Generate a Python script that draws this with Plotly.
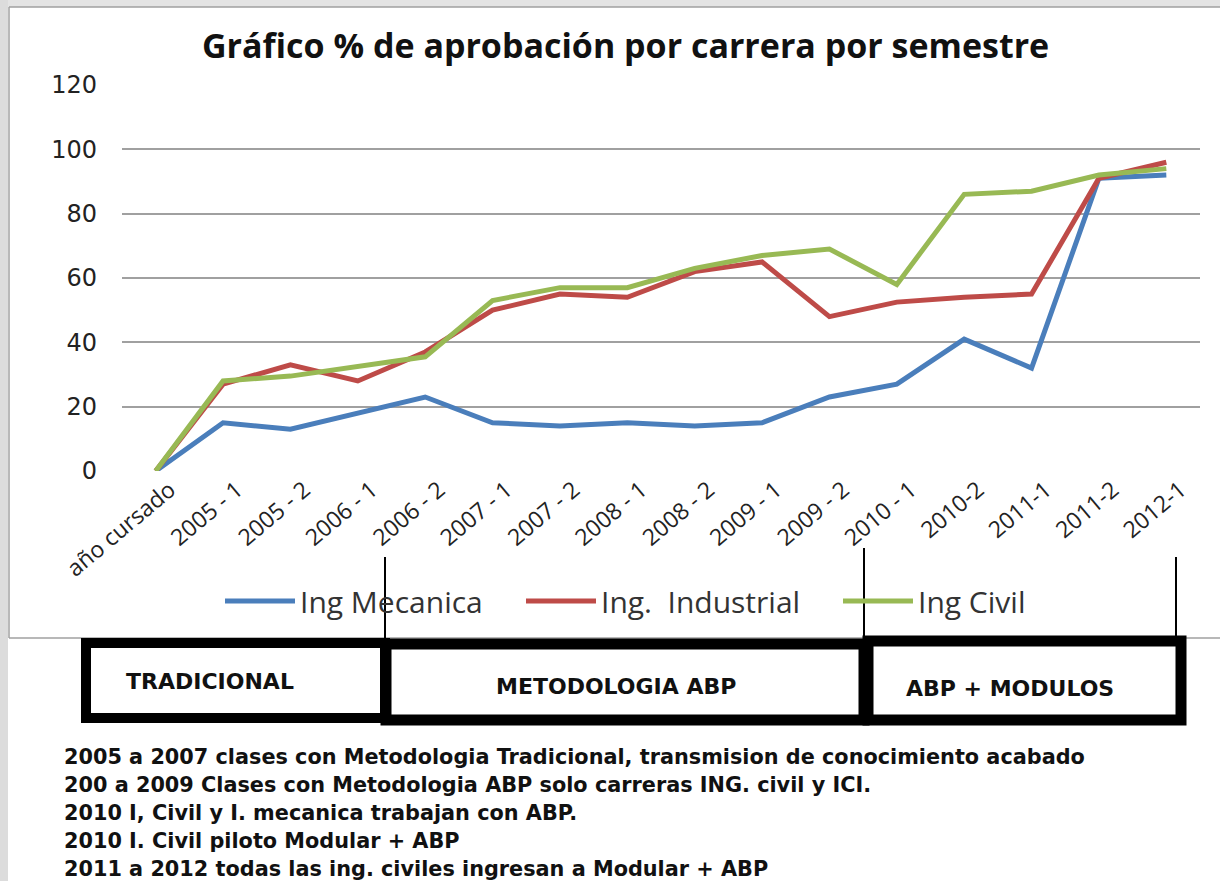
import plotly.graph_objects as go

W, H = 1220, 881

categories = ["año cursado", "2005 - 1", "2005 - 2", "2006 - 1", "2006 - 2", "2007 - 1",
              "2007 - 2", "2008 - 1", "2008 - 2", "2009 - 1", "2009 - 2", "2010 - 1",
              "2010-2", "2011-1", "2011-2", "2012-1"]
ing_mecanica = [0, 15, 13, 18, 23, 15, 14, 15, 14, 15, 23, 27, 41, 32, 91, 92]
ing_industrial = [0, 27, 33, 28, 37, 50, 55, 54, 62, 65, 48, 52.5, 54, 55, 91, 96]
ing_civil = [0, 28, 29.5, 32.5, 35.5, 53, 57, 57, 63, 67, 69, 58, 86, 87, 92, 94]

series_names = ["Ing Mecanica", "Ing.  Industrial", "Ing Civil"]
series_colors = ["#4A7EBB", "#BE4B48", "#98B954"]

y_ticks = [0, 20, 40, 60, 80, 100, 120]
title_text = "Gráfico % de aprobación por carrera por semestre"
box_labels = ["TRADICIONAL", "METODOLOGIA ABP", "ABP + MODULOS"]
notes = [
    "2005 a 2007 clases con Metodologia Tradicional, transmision de conocimiento acabado",
    "200 a 2009 Clases con Metodologia ABP solo carreras ING. civil y ICI.",
    "2010 I, Civil y I. mecanica trabajan con ABP.",
    "2010 I. Civil piloto Modular + ABP",
    "2011 a 2012 todas las ing. civiles ingresan a Modular + ABP",
]


def px(x):
    return x / W


def py(y):
    return 1 - y / H


legend_ids = ["legend", "legend2", "legend3"]
legend_x = [220, 521, 838]

fig = go.Figure()
for name, vals, col, lid in zip(series_names, [ing_mecanica, ing_industrial, ing_civil],
                                series_colors, legend_ids):
    fig.add_trace(go.Scatter(x=categories, y=vals, mode="lines", name=name, legend=lid,
                             line=dict(color=col, width=5)))

shapes = []
# window frame strips
shapes.append(dict(type="rect", xref="paper", yref="paper", x0=px(0), x1=px(W), y0=py(0), y1=py(7),
                   fillcolor="#e4e4e4", line=dict(width=0), layer="below"))
shapes.append(dict(type="rect", xref="paper", yref="paper", x0=px(0), x1=px(8), y0=py(0), y1=py(H),
                   fillcolor="#dcdcdc", line=dict(width=0), layer="below"))
# chart border (left, top, bottom)
for x0, y0, x1, y1 in [(9, 7, 9, 638), (9, 7, W, 7), (9, 638, W, 638)]:
    shapes.append(dict(type="line", xref="paper", yref="paper", x0=px(x0), x1=px(x1), y0=py(y0), y1=py(y1),
                       line=dict(color="#a0a0a0", width=1.5), layer="below"))
# thin vertical separators
for x, y0, y1 in [(385, 557, 641), (864, 548, 641), (1176, 557, 638)]:
    shapes.append(dict(type="line", xref="paper", yref="paper", x0=px(x), x1=px(x), y0=py(y0), y1=py(y1),
                       line=dict(color="black", width=2)))
# boxes
for x0, x1, y0, y1, lw in [(86, 385, 643, 718, 10), (386, 864, 644, 720, 11), (868, 1181, 641, 720, 11)]:
    shapes.append(dict(type="rect", xref="paper", yref="paper", x0=px(x0), x1=px(x1), y0=py(y0), y1=py(y1),
                       fillcolor="rgba(0,0,0,0)", line=dict(color="black", width=lw)))

annotations = []
annotations.append(dict(text="<b>" + title_text + "</b>", xref="paper", yref="paper", x=px(625), y=py(45),
                        showarrow=False, xanchor="center", yanchor="middle",
                        font=dict(family="Open Sans", size=34, color="#111111")))
for lab, cx, cy in zip(box_labels, [210, 616, 1010], [681, 686, 688]):
    annotations.append(dict(text="<b>" + lab + "</b>", xref="paper", yref="paper", x=px(cx), y=py(cy),
                            showarrow=False, xanchor="center", yanchor="middle",
                            font=dict(family="DejaVu Sans", size=22, color="#111111")))
for i, line in enumerate(notes):
    annotations.append(dict(text="<b>" + line + "</b>", xref="paper", yref="paper", x=px(62), y=py(757 + 28 * i),
                            showarrow=False, xanchor="left", yanchor="middle",
                            font=dict(family="DejaVu Sans", size=20.8, color="#111111")))

legend_style = dict(orientation="h", y=py(601), xanchor="left", yanchor="middle",
                    itemwidth=70, font=dict(family="Open Sans", size=30, color="#333333"),
                    bgcolor="rgba(0,0,0,0)", itemclick=False, itemdoubleclick=False)

fig.update_layout(
    width=W, height=H,
    margin=dict(l=0, r=0, t=0, b=0, autoexpand=False),
    paper_bgcolor="white", plot_bgcolor="white",
    showlegend=True,
    legend=dict(x=px(legend_x[0]), **legend_style),
    legend2=dict(x=px(legend_x[1]), **legend_style),
    legend3=dict(x=px(legend_x[2]), **legend_style),
    xaxis=dict(domain=[px(122), px(1200)], range=[-0.5, 15.5], type="category",
               tickangle=-40, showgrid=False, showline=False, ticks="", automargin=False,
               ticklabelshift=14,
               tickfont=dict(family="Open Sans", size=23, color="#222222")),
    yaxis=dict(domain=[py(471), py(85)], range=[0, 120], tickvals=y_ticks,
               showgrid=True, gridcolor="#a0a0a0", gridwidth=1.5, zeroline=False, automargin=False,
               showline=False, ticks="", ticklabelstandoff=24,
               tickfont=dict(family="DejaVu Sans", size=24, color="#222222")),
    shapes=shapes, annotations=annotations,
)

fig.write_html("out.html", config={"displayModeBar": False},
               post_script="document.body.style.margin='0px';")
